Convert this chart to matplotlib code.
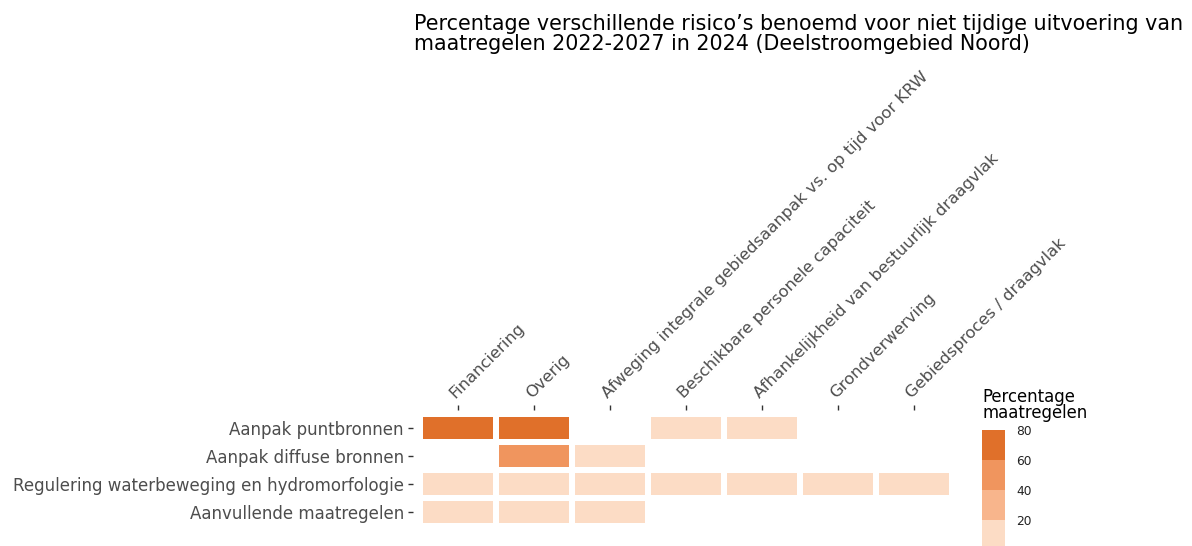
import numpy as np
import matplotlib
matplotlib.use("Agg")
import matplotlib.pyplot as plt
from matplotlib.colors import ListedColormap, BoundaryNorm
from matplotlib.colorbar import ColorbarBase

########## Data
maatregelen = [
    "Aanpak puntbronnen",
    "Aanpak diffuse bronnen",
    "Regulering waterbeweging en hydromorfologie",
    "Aanvullende maatregelen",
]
risicos = [
    "Financiering",
    "Overig",
    "Afweging integrale gebiedsaanpak vs. op tijd voor KRW",
    "Beschikbare personele capaciteit",
    "Afhankelijkheid van bestuurlijk draagvlak",
    "Grondverwerving",
    "Gebiedsproces / draagvlak",
]
nan = np.nan
puntbronnen = [75, 75, nan, 10, 10, nan, nan]
diffuse = [nan, 50, 10, nan, nan, nan, nan]
regulering = [10, 10, 10, 10, 10, 10, 10]
aanvullend = [10, 10, 10, nan, nan, nan, nan]

bins = [0, 20, 40, 60, 80]
bin_colors = ["#FCDCC5", "#F8B58C", "#F0955E", "#E0702A"]

values = np.ma.masked_invalid(np.array([puntbronnen, diffuse, regulering, aanvullend], dtype=float))

cmap = ListedColormap(bin_colors)
norm = BoundaryNorm(bins, cmap.N)

########## Figure
W, H = 1192, 546
fig = plt.figure(figsize=(W / 100, H / 100), dpi=100)

ax = fig.add_axes([413 / W, 1 - 530 / H, 541 / W, 120 / H])
x_edges = np.arange(len(risicos) + 1) - 0.5
y_edges = np.arange(len(maatregelen) + 1) - 0.5
ax.pcolormesh(x_edges, y_edges, values, cmap=cmap, norm=norm,
              edgecolors="white", linewidth=2.9)
ax.set_xlim(-0.59, len(risicos) - 0.47)
ax.set_ylim(len(maatregelen) - 0.5 + 0.14, -0.5 - 0.14)

for s in ax.spines.values():
    s.set_visible(False)

ax.xaxis.tick_top()
ax.set_xticks(range(len(risicos)))
ax.set_xticklabels(risicos, rotation=45, ha="left", va="bottom",
                   rotation_mode="anchor", fontsize=11.8, color="#4D4D4D")
ax.set_yticks(range(len(maatregelen)))
ax.set_yticklabels(maatregelen, fontsize=12, color="#4D4D4D")
ax.tick_params(axis="both", length=3.5, width=1, color="#333333", pad=3)

########## Title
fig.text(414 / W, 1 - 14 / H,
         "Percentage verschillende risico\u2019s benoemd voor niet tijdige uitvoering van\n"
         "maatregelen 2022-2027 in 2024 (Deelstroomgebied Noord)",
         ha="left", va="top", fontsize=14.9, linespacing=1.0)

########## Legend
fig.text(982 / W, 1 - 388 / H, "Percentage\nmaatregelen",
         ha="left", va="top", fontsize=11.9, linespacing=0.85)
cax = fig.add_axes([982 / W, 1 - 550 / H, 23 / W, 120 / H])
cb = ColorbarBase(cax, cmap=cmap, norm=norm, boundaries=bins, ticks=bins)
cb.outline.set_visible(False)
cb.ax.tick_params(length=0, labelsize=8.8, labelcolor="#222222", pad=8)

fig.savefig("out.png", dpi=100)
